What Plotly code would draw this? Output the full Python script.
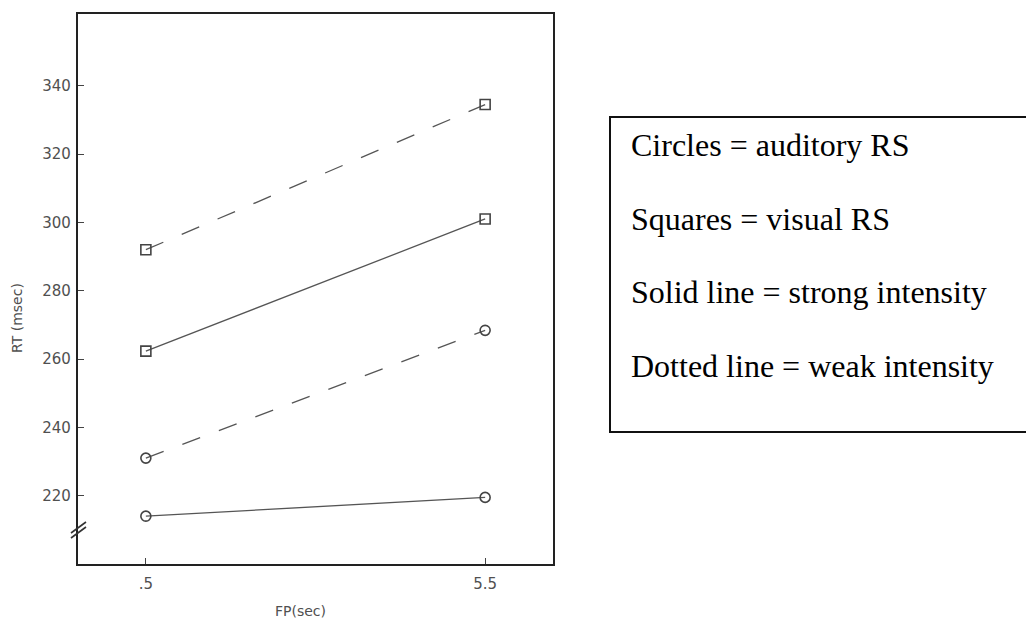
import plotly.graph_objects as go

# Foreperiod (sec) and mean reaction time (msec) per condition
fp = [0.5, 5.5]
visual_weak = [292, 334.5]
visual_strong = [262.3, 301]
auditory_weak = [231, 268.4]
auditory_strong = [214, 219.5]

x_ticks = [0.5, 5.5]
x_tick_text = [".5", "5.5"]
y_ticks = [220, 240, 260, 280, 300, 320, 340]

legend_lines = [
    "Circles = auditory RS",
    "Squares = visual RS",
    "Solid line = strong intensity",
    "Dotted line = weak intensity",
]

W, H = 1026, 622
L, R, T, B = 78, 473, 14, 58
PW, PH = W - L - R, H - T - B


def px(x):
    return (x - L) / PW


def py(y):
    return (H - B - y) / PH


line_col = "#555555"
dash = "19px,20px"

fig = go.Figure()

series = [
    (visual_weak, "square-open", dash),
    (visual_strong, "square-open", "solid"),
    (auditory_weak, "circle-open", dash),
    (auditory_strong, "circle-open", "solid"),
]
for ys, sym, ds in series:
    fig.add_trace(go.Scatter(
        x=fp, y=ys, mode="lines+markers",
        line=dict(color=line_col, width=1.3, dash=ds),
        marker=dict(symbol=sym, size=10, color="#444444",
                    line=dict(width=1.6, color="#444444")),
        showlegend=False,
    ))

axis_font = dict(family="DejaVu Sans", size=15, color="#505050")

fig.update_xaxes(
    range=[-0.5, 6.5], tickvals=x_ticks, ticktext=x_tick_text,
    ticks="inside", ticklen=6, tickwidth=1.2, tickcolor="#444444",
    showline=True, linewidth=2.2, linecolor="#222222", mirror=True,
    showgrid=False, zeroline=False, tickfont=axis_font,
    ticklabelstandoff=5,
)
fig.update_yaxes(
    range=[200, 361], tickvals=y_ticks,
    ticks="inside", ticklen=6, tickwidth=1.2, tickcolor="#444444",
    showline=True, linewidth=2.2, linecolor="#222222", mirror=True,
    showgrid=False, zeroline=False, tickfont=axis_font,
    ticklabelstandoff=2,
)

shapes = []
# axis break marks on the y axis
for off in (0, 5):
    shapes.append(dict(
        type="line", xref="paper", yref="paper",
        x0=px(71), y0=py(538 - off), x1=px(86), y1=py(527 - off),
        line=dict(color="#333333", width=1.6),
    ))
# key box
shapes.append(dict(
    type="rect", xref="paper", yref="paper",
    x0=px(610), y0=py(432), x1=px(1040), y1=py(117),
    line=dict(color="#111111", width=2), fillcolor="rgba(0,0,0,0)",
))

annotations = [
    dict(text="RT (msec)", xref="paper", yref="paper", x=px(17), y=py(318),
         textangle=-90, showarrow=False, xanchor="center", yanchor="middle",
         font=dict(family="DejaVu Sans", size=14, color="#505050")),
    dict(text="FP(sec)", xref="paper", yref="paper", x=px(300), y=py(611),
         showarrow=False, xanchor="center", yanchor="middle",
         font=dict(family="DejaVu Sans", size=14, color="#505050")),
]
for i, txt in enumerate(legend_lines):
    annotations.append(dict(
        text=txt, xref="paper", yref="paper", x=px(629), y=py(145 + 73.5 * i),
        showarrow=False, xanchor="left", yanchor="middle",
        font=dict(family="Liberation Serif", size=32, color="#000000"),
    ))

fig.update_layout(
    width=W, height=H,
    margin=dict(l=L, r=R, t=T, b=B),
    paper_bgcolor="white", plot_bgcolor="white",
    shapes=shapes, annotations=annotations,
)

fig.write_html("out.html")
